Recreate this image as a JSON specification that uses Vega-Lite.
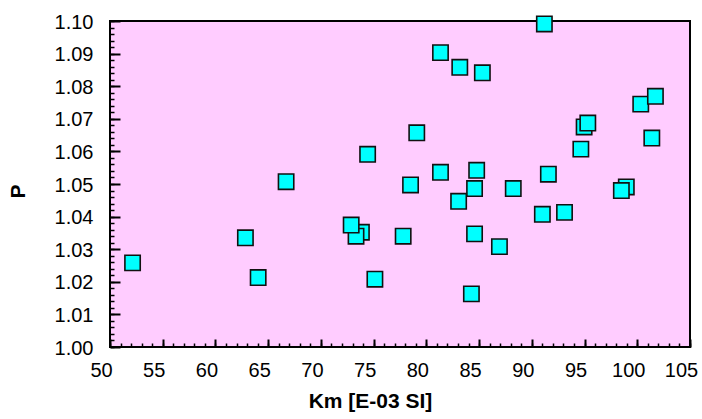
{
  "$schema": "https://vega.github.io/schema/vega-lite/v6.json",
  "width": 580,
  "height": 326,
  "autosize": "none",
  "padding": {"left": 110, "top": 21, "right": 12, "bottom": 72},
  "background": "white",
  "config": {
    "view": {"stroke": "black", "strokeWidth": 2, "fill": "#FFCCFF"},
    "font": "Liberation Sans",
    "axis": {"grid": false, "domain": false, "tickColor": "black", "labelColor": "black", "titleColor": "black", "labelFont": "Liberation Sans", "titleFont": "Liberation Sans"}
  },
  "data": {"values": [
    {"Km": 66.7, "P": 1.0507},
    {"Km": 62.84, "P": 1.0335},
    {"Km": 64.05, "P": 1.0213},
    {"Km": 52.14, "P": 1.0258},
    {"Km": 81.34, "P": 1.0903},
    {"Km": 83.17, "P": 1.0858},
    {"Km": 85.31, "P": 1.0841},
    {"Km": 79.09, "P": 1.0657},
    {"Km": 74.43, "P": 1.0591},
    {"Km": 81.34, "P": 1.0536},
    {"Km": 84.77, "P": 1.0542},
    {"Km": 78.5, "P": 1.0497},
    {"Km": 84.57, "P": 1.0486},
    {"Km": 83.06, "P": 1.0447},
    {"Km": 73.84, "P": 1.0352},
    {"Km": 73.33, "P": 1.034},
    {"Km": 72.87, "P": 1.0374},
    {"Km": 77.8, "P": 1.034},
    {"Km": 84.57, "P": 1.0347},
    {"Km": 86.93, "P": 1.0308},
    {"Km": 75.12, "P": 1.0208},
    {"Km": 84.27, "P": 1.0163},
    {"Km": 91.19, "P": 1.0991},
    {"Km": 100.33, "P": 1.0745},
    {"Km": 101.72, "P": 1.0769},
    {"Km": 94.96, "P": 1.0675},
    {"Km": 95.31, "P": 1.0687},
    {"Km": 101.38, "P": 1.0641},
    {"Km": 94.65, "P": 1.0607},
    {"Km": 91.57, "P": 1.053},
    {"Km": 88.24, "P": 1.0486},
    {"Km": 98.96, "P": 1.0491},
    {"Km": 98.49, "P": 1.048},
    {"Km": 91.0, "P": 1.0407},
    {"Km": 93.1, "P": 1.0413}
  ]},
  "resolve": {"axis": {"x": "independent", "y": "independent"}},
  "layer": [
    {
      "mark": {"type": "point", "opacity": 0},
      "encoding": {
        "x": {"field": "Km", "type": "quantitative", "scale": {"domain": [50, 105], "nice": false, "zero": false},
          "axis": {"orient": "bottom", "title": null, "labels": false, "tickSize": -4, "tickWidth": 1.5,
            "values": [50,51,52,53,54,55,56,57,58,59,60,61,62,63,64,65,66,67,68,69,70,71,72,73,74,75,76,77,78,79,80,81,82,83,84,85,86,87,88,89,90,91,92,93,94,95,96,97,98,99,100,101,102,103,104,105]}},
        "y": {"field": "P", "type": "quantitative", "scale": {"domain": [1.0, 1.1], "nice": false, "zero": false},
          "axis": {"orient": "left", "title": null, "labels": false, "tickSize": -4, "tickWidth": 1.5,
            "values": [1.000,1.002,1.004,1.006,1.008,1.010,1.012,1.014,1.016,1.018,1.020,1.022,1.024,1.026,1.028,1.030,1.032,1.034,1.036,1.038,1.040,1.042,1.044,1.046,1.048,1.050,1.052,1.054,1.056,1.058,1.060,1.062,1.064,1.066,1.068,1.070,1.072,1.074,1.076,1.078,1.080,1.082,1.084,1.086,1.088,1.090,1.092,1.094,1.096,1.098,1.100]}}
      }
    },
    {
      "mark": {"type": "point", "shape": "square", "filled": true, "fill": "#00FFFF", "stroke": "#111111", "strokeWidth": 1.6, "size": 235, "opacity": 1},
      "encoding": {
        "x": {"field": "Km", "type": "quantitative", "scale": {"domain": [50, 105], "nice": false, "zero": false},
          "axis": {"orient": "bottom", "title": "Km [E-03 SI]", "titleFontSize": 21, "titleFontWeight": "bold", "titleX": 260, "titleY": 43, "titleAlign": "center", "titleBaseline": "top",
            "values": [50,55,60,65,70,75,80,85,90,95,100,105], "tickSize": -8, "tickWidth": 2, "labelFontSize": 20, "labelPadding": 21, "labelOffset": -9, "labelFlush": false, "labelOverlap": false}},
        "y": {"field": "P", "type": "quantitative", "scale": {"domain": [1.0, 1.1], "nice": false, "zero": false},
          "axis": {"orient": "left", "title": "P", "titleFontSize": 21, "titleFontWeight": "bold", "titleX": -92, "titleY": 170, "titleAlign": "center", "titleBaseline": "middle",
            "values": [1.00,1.01,1.02,1.03,1.04,1.05,1.06,1.07,1.08,1.09,1.10], "format": ".2f", "tickSize": -10, "tickWidth": 2, "labelFontSize": 20, "labelPadding": 27, "labelFlush": false, "labelOverlap": false, "labelOffset": 1}}
      }
    }
  ]
}
